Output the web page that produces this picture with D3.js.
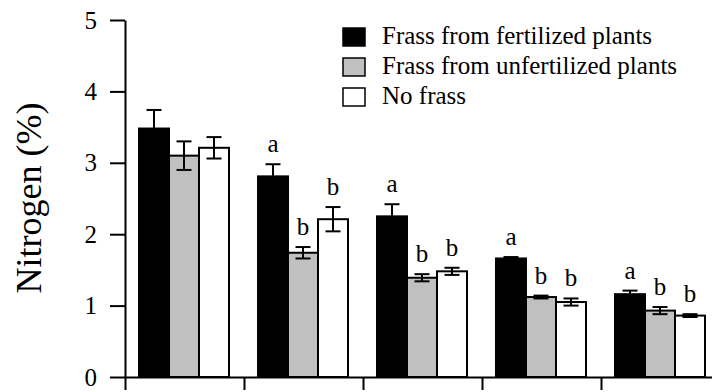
<!DOCTYPE html>
<head>
  <meta charset="utf-8">
</head>
<style>
body { margin: 0; background: #fff; }
text { font-family: "Liberation Serif", "Times New Roman", serif; fill: #000; }
.axis path, .axis line { stroke: #000; stroke-width: 2; }
.axis text { font-size: 25px; font-family: "Liberation Serif", serif; fill: #000; }
</style>
<body>
<script src="https://d3js.org/d3.v7.min.js"></script>
<script>
var width = 712, height = 392;

// data
var groups = ["1", "2", "3", "4", "5"];
var series = ["Frass from fertilized plants", "Frass from unfertilized plants", "No frass"];
var fertilized = [3.48, 2.81, 2.25, 1.66, 1.16];
var fertilizedSE = [0.26, 0.17, 0.17, 0.02, 0.05];
var unfertilized = [3.10, 1.74, 1.39, 1.12, 0.93];
var unfertilizedSE = [0.20, 0.08, 0.05, 0.02, 0.05];
var noFrass = [3.21, 2.21, 1.48, 1.05, 0.86];
var noFrassSE = [0.15, 0.17, 0.05, 0.05, 0.02];
var letters = [["", "", ""], ["a", "b", "b"], ["a", "b", "b"], ["a", "b", "b"], ["a", "b", "b"]];
var yTicks = [0, 1, 2, 3, 4, 5];
var colors = ["#000000", "#c0c0c0", "#ffffff"];

var means = [fertilized, unfertilized, noFrass];
var ses = [fertilizedSE, unfertilizedSE, noFrassSE];

var svg = d3.select("body").append("svg")
  .attr("width", width)
  .attr("height", height);

var y = d3.scaleLinear().domain([0, 5]).range([377, 20]);
var xEdge = d3.scaleLinear().domain([0, groups.length]).range([125, 720]);
var x = d3.scaleBand().domain(groups).range([125, 720]).padding(0);
var xSub = d3.scaleBand().domain(series).range([14, 104]).padding(0);

// bars
var rows = [];
groups.forEach(function(g, i) {
  series.forEach(function(s, j) {
    rows.push({group: g, series: s, j: j, mean: means[j][i], se: ses[j][i], letter: letters[i][j]});
  });
});

var bar = svg.append("g").selectAll(".bar")
  .data(rows)
  .enter().append("g")
  .attr("transform", function(d) { return "translate(" + (x(d.group) + xSub(d.series)) + ",0)"; });

bar.append("rect")
  .attr("x", 0)
  .attr("y", function(d) { return y(d.mean); })
  .attr("width", xSub.bandwidth())
  .attr("height", function(d) { return y(0) - y(d.mean); })
  .style("fill", function(d) { return colors[d.j]; })
  .style("stroke", "#000")
  .style("stroke-width", 2);

var cx = xSub.bandwidth() / 2, cap = 7.5;
bar.append("line")
  .attr("x1", cx).attr("x2", cx)
  .attr("y1", function(d) { return y(d.mean + d.se); })
  .attr("y2", function(d) { return y(d.mean - d.se); })
  .style("stroke", "#000").style("stroke-width", 2);
bar.append("line")
  .attr("x1", cx - cap).attr("x2", cx + cap)
  .attr("y1", function(d) { return y(d.mean + d.se); })
  .attr("y2", function(d) { return y(d.mean + d.se); })
  .style("stroke", "#000").style("stroke-width", 2);
bar.append("line")
  .attr("x1", cx - cap).attr("x2", cx + cap)
  .attr("y1", function(d) { return y(d.mean - d.se); })
  .attr("y2", function(d) { return y(d.mean - d.se); })
  .style("stroke", "#000").style("stroke-width", 2);

bar.append("text")
  .attr("x", cx)
  .attr("y", function(d) { return y(d.mean + d.se) - 12; })
  .attr("text-anchor", "middle")
  .attr("font-size", 25)
  .text(function(d) { return d.letter; });

// axes
svg.append("g")
  .attr("class", "axis")
  .attr("transform", "translate(125,0)")
  .call(d3.axisLeft(y).tickValues(yTicks).tickFormat(d3.format("d")).tickSize(15).tickSizeOuter(0).tickPadding(13))
  .attr("font-family", "Liberation Serif")
  .attr("font-size", 25);

svg.append("g")
  .attr("class", "axis")
  .attr("transform", "translate(0,377)")
  .call(d3.axisBottom(xEdge).tickValues(d3.range(groups.length + 1)).tickFormat("").tickSize(13).tickSizeOuter(0));

svg.append("text")
  .attr("transform", "translate(41,198) rotate(-90)")
  .attr("text-anchor", "middle")
  .attr("font-size", 36)
  .text("Nitrogen (%)");

// legend
var legend = svg.append("g").selectAll(".leg")
  .data(series)
  .enter().append("g")
  .attr("transform", function(d, i) { return "translate(343," + (28 + i * 30) + ")"; });

legend.append("rect")
  .attr("width", 22).attr("height", 18)
  .style("fill", function(d, i) { return colors[i]; })
  .style("stroke", "#000").style("stroke-width", 1.5);

legend.append("text")
  .attr("x", 39).attr("y", 16)
  .attr("font-size", 25)
  .text(function(d) { return d; });
</script>
</body>
